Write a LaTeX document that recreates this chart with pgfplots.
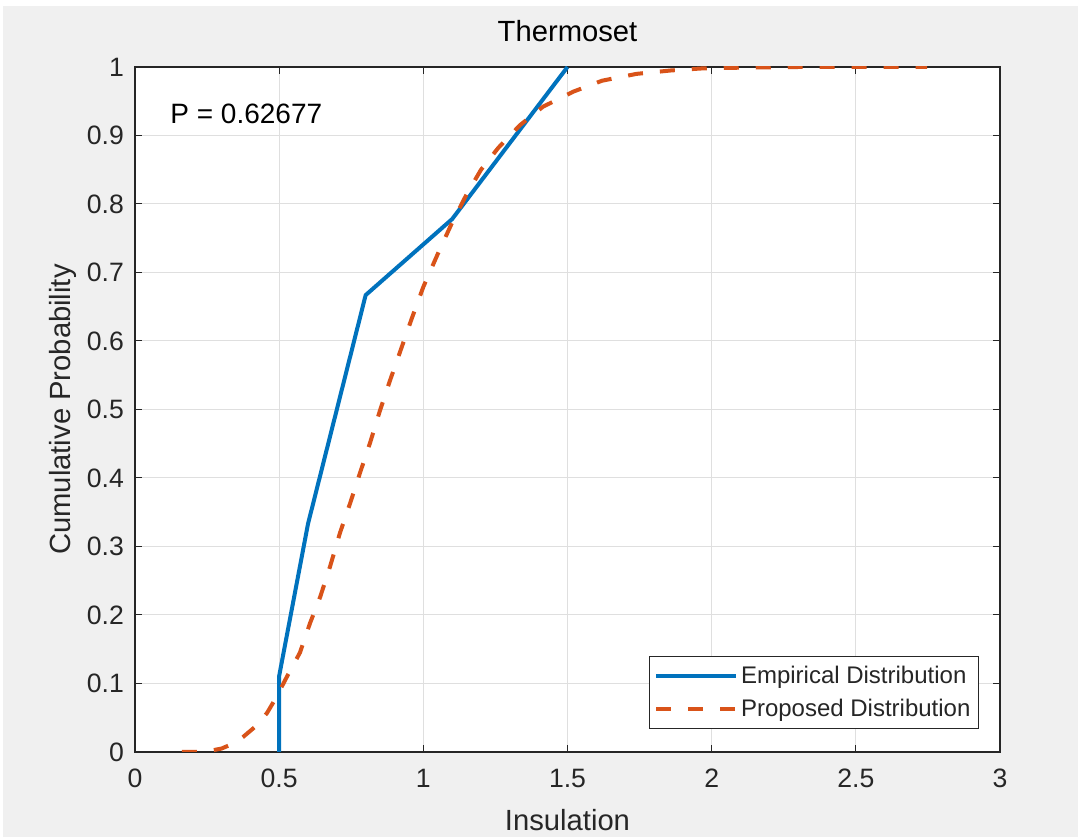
\documentclass[border=0pt]{standalone}
\usepackage{fontspec}
\setmainfont{Liberation Sans}
\usepackage{pgfplots}
\pgfplotsset{compat=1.18}
\definecolor{mblue}{RGB}{0,114,189}
\definecolor{morange}{RGB}{217,83,25}
\definecolor{axc}{RGB}{38,38,38}
\definecolor{bg}{RGB}{240,240,240}
\definecolor{gridc}{RGB}{223,223,223}
\begin{document}
\begin{tikzpicture}
\fill[white] (-67.5pt,-42.5pt) rectangle (471.5pt,376pt);
\fill[bg] (-66pt,-42.5pt) rectangle (471.5pt,373pt);
\begin{axis}[
  at={(0,0)}, anchor=south west,
  scale only axis, width=432.5pt, height=342.5pt,
  axis background/.style={fill=white},
  xmin=0, xmax=3, ymin=0, ymax=1,
  xtick={0,0.5,1,1.5,2,2.5,3},
  ytick={0,0.1,0.2,0.3,0.4,0.5,0.6,0.7,0.8,0.9,1},
  tick align=inside, major tick length=3.5pt,
  tick style={axc, line width=0.5pt},
  axis line style={axc, line width=0.6pt},
  grid=major, major grid style={gridc, line width=0.5pt},
  /pgf/number format/assume math mode=true,
  ticklabel style={font=\fontsize{13.3}{16}\selectfont, text=axc},
  xticklabel style={yshift=-5pt},
  yticklabel style={xshift=-2pt},
  title={Thermoset},
  title style={at={(axis description cs:0.5,1.0204)}, anchor=base, font=\fontsize{14.6}{17}\selectfont, text=black},
  xlabel={Insulation},
  xlabel style={at={(axis description cs:0.5,-0.1145)}, anchor=base, font=\fontsize{14.6}{17}\selectfont, text=axc},
  ylabel={Cumulative Probability},
  ylabel style={at={(axis description cs:-0.0751,0.5)}, anchor=base, font=\fontsize{14.6}{17}\selectfont, text=axc},
  legend style={at={(0.9757,0.0336)}, anchor=south east, draw=axc, line width=0.5pt, fill=white,
    font=\fontsize{12}{14}\selectfont, text=axc, inner xsep=2.5pt, inner ysep=3.2pt, row sep=3pt,
    cells={anchor=west}, nodes={inner sep=1.5pt}},
  legend image code/.code={\draw[#1] (0pt,0pt) -- (40pt,0pt);},
]
\addplot[mblue, line width=2pt, line join=round] coordinates {
 (0.5,0) (0.5,0.111) (0.6,0.333) (0.8,0.667) (1.1,0.778) (1.5,1.0)
};
\addlegendentry{Empirical Distribution}
\addplot[morange, line width=2pt, dash pattern=on 7.5pt off 8.5pt] coordinates {
 (0.163,0.000) (0.20,0.000) (0.25,0.001) (0.30,0.005) (0.35,0.014) (0.375,0.022)
 (0.42,0.038) (0.458,0.057) (0.479,0.072) (0.5,0.088) (0.527,0.110) (0.572,0.145)
 (0.607,0.188) (0.642,0.226) (0.676,0.270) (0.711,0.320) (0.746,0.363) (0.780,0.407)
 (0.815,0.451) (0.850,0.499) (0.885,0.543) (0.92,0.585) (0.96,0.633) (1.0,0.679)
 (1.05,0.727) (1.1,0.773) (1.15,0.814) (1.2,0.850) (1.26,0.882) (1.335,0.915)
 (1.415,0.942) (1.52,0.964) (1.62,0.980) (1.74,0.990) (1.86,0.995) (1.97,0.998)
 (2.1,0.999) (2.3,1.0) (2.747,1.0)
};
\addlegendentry{Proposed Distribution}
\node[anchor=base west, inner sep=0pt, font=\fontsize{14}{17}\selectfont, text=black] at (axis cs:0.1214,0.9168) {P = 0.62677};
\end{axis}
\end{tikzpicture}
\end{document}
